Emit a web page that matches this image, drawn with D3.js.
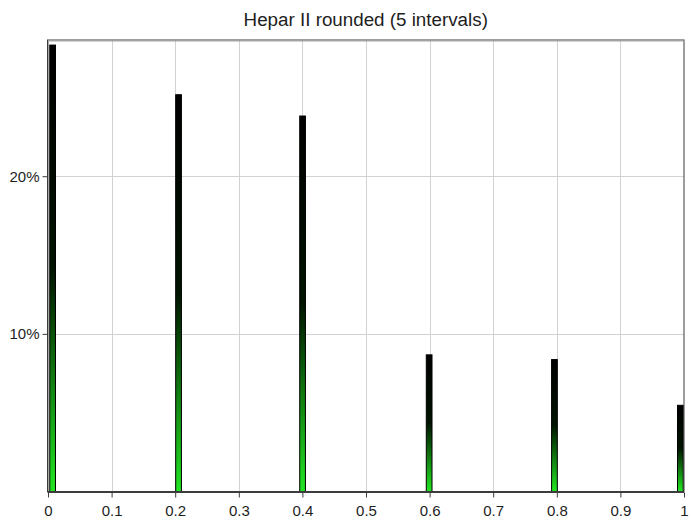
<!DOCTYPE html>
<html>
<head>
<meta charset="utf-8">
<script src="https://cdn.jsdelivr.net/npm/d3@7"></script>
<style>
  html, body { margin: 0; padding: 0; background: #fff; }
  svg { display: block; }
  text { font-family: "Liberation Sans", Arial, sans-serif; fill: #1e1e1e; }
</style>
</head>
<body>
<svg id="chart" width="692" height="526"></svg>
<script>
// Histogram of the rounded Hepar II values (5 intervals)
const chartTitle = "Hepar II rounded (5 intervals)";
const categories = ["0", "0.2", "0.4", "0.6", "0.8", "1"];
const binStart = [0.002, 0.2, 0.395, 0.594, 0.791, 0.989];
const binWidth = 0.009;
const percents = [28.35, 25.2, 23.85, 8.7, 8.4, 5.5];
const xTicks = [0, 0.1, 0.2, 0.3, 0.4, 0.5, 0.6, 0.7, 0.8, 0.9, 1];
const xTickLabels = ["0", "0.1", "0.2", "0.3", "0.4", "0.5", "0.6", "0.7", "0.8", "0.9", "1"];
const yTicks = [10, 20];
const yTickLabels = ["10%", "20%"];
const yMax = 28.64;

const svg = d3.select("#chart");
const plot = { left: 47.5, right: 684, top: 40, bottom: 491.5 };

const x = d3.scaleLinear().domain([0, 1]).range([plot.left + 0.5, plot.right]);
const y = d3.scaleLinear().domain([0, yMax]).range([plot.bottom, plot.top]);

// gradient fill for bars: black at the top fading to bright green at the base
const defs = svg.append("defs");
const grad = defs.append("linearGradient")
  .attr("id", "barGrad").attr("x1", 0).attr("y1", 0).attr("x2", 0).attr("y2", 1);
grad.append("stop").attr("offset", "0%").attr("stop-color", "#000000");
grad.append("stop").attr("offset", "50%").attr("stop-color", "#001400");
grad.append("stop").attr("offset", "100%").attr("stop-color", "#22e622");

// grid lines
const grid = svg.append("g");
grid.selectAll("line.v")
  .data(xTicks.filter(t => t > 0 && t < 1))
  .join("line")
  .attr("x1", d => Math.round(x(d)) + 0.5).attr("x2", d => Math.round(x(d)) + 0.5)
  .attr("y1", plot.top).attr("y2", plot.bottom)
  .attr("stroke", "#d2d2d2").attr("stroke-width", 1);
grid.selectAll("line.h")
  .data(yTicks)
  .join("line")
  .attr("x1", plot.left).attr("x2", plot.right)
  .attr("y1", d => Math.round(y(d)) + 0.5).attr("y2", d => Math.round(y(d)) + 0.5)
  .attr("stroke", "#d2d2d2").attr("stroke-width", 1);

// bars
svg.append("g").selectAll("rect")
  .data(categories.map((c, i) => ({ c, lo: binStart[i], v: percents[i] })))
  .join("rect")
  .attr("x", d => x(d.lo) + 0.5)
  .attr("width", d => x(d.lo + binWidth) - x(d.lo))
  .attr("y", d => y(d.v) + 0.5)
  .attr("height", d => y(0) - y(d.v) - 0.5)
  .attr("fill", "url(#barGrad)")
  .attr("stroke", "#000").attr("stroke-width", 1);

// frame
svg.append("rect")
  .attr("x", plot.left).attr("y", plot.top)
  .attr("width", plot.right - plot.left).attr("height", plot.bottom - plot.top)
  .attr("fill", "none").attr("stroke", "#3c3c3c").attr("stroke-width", 1);
svg.append("line")
  .attr("x1", plot.left + 1).attr("x2", plot.left + 1)
  .attr("y1", plot.top + 1).attr("y2", plot.bottom)
  .attr("stroke", "#a8a8a8").attr("stroke-width", 1);
svg.append("line")
  .attr("x1", plot.left + 1).attr("x2", plot.right)
  .attr("y1", plot.top + 1).attr("y2", plot.top + 1)
  .attr("stroke", "#a8a8a8").attr("stroke-width", 1);
svg.append("line")
  .attr("x1", plot.left).attr("x2", plot.right)
  .attr("y1", plot.bottom + 0.5).attr("y2", plot.bottom + 0.5)
  .attr("stroke", "#3c3c3c").attr("stroke-width", 2);

// x axis
const xAxis = d3.axisBottom(x)
  .tickValues(xTicks)
  .tickFormat((d, i) => xTickLabels[i])
  .tickSize(5).tickPadding(8);
const gx = svg.append("g")
  .attr("transform", `translate(0,${plot.bottom + 1})`)
  .call(xAxis);
gx.select(".domain").remove();
gx.selectAll(".tick line").attr("stroke", "#3c3c3c");
gx.selectAll(".tick text")
  .attr("font-size", 15).attr("font-family", "Liberation Sans, Arial, sans-serif")
  .attr("fill", "#1a1a1a");

// y axis
const yAxis = d3.axisLeft(y)
  .tickValues(yTicks)
  .tickFormat((d, i) => yTickLabels[i])
  .tickSize(5).tickPadding(3);
const gy = svg.append("g")
  .attr("transform", `translate(${plot.left},0)`)
  .call(yAxis);
gy.select(".domain").remove();
gy.selectAll(".tick line").attr("stroke", "#3c3c3c");
gy.selectAll(".tick text")
  .attr("font-size", 15).attr("font-family", "Liberation Sans, Arial, sans-serif")
  .attr("fill", "#1a1a1a");

// title
svg.append("text")
  .attr("x", (plot.left + plot.right) / 2)
  .attr("y", 26)
  .attr("text-anchor", "middle")
  .attr("font-size", 18.8)
  .text(chartTitle);
</script>
</body>
</html>
